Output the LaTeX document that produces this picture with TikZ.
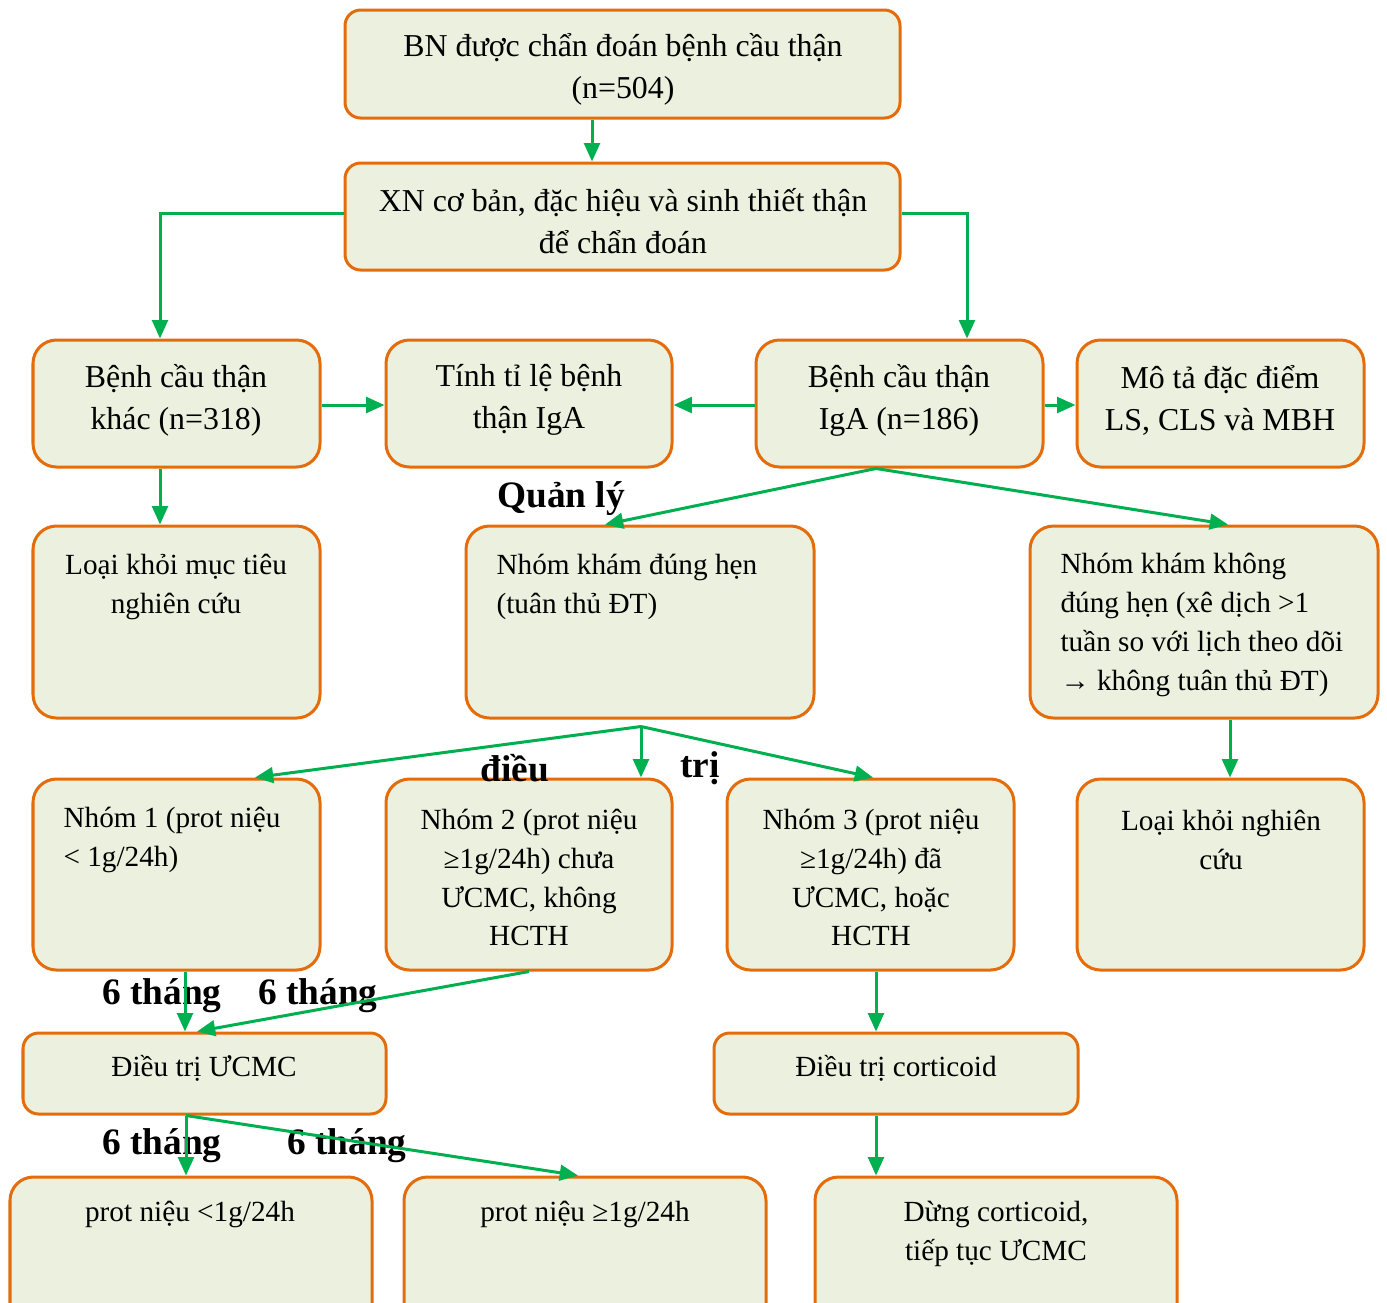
\documentclass[tikz,border=0pt]{standalone}
\usepackage{fontspec}
\setmainfont{Liberation Serif}
\usetikzlibrary{arrows.meta,fit,calc}
\definecolor{boxfill}{HTML}{EBF1DE}
\definecolor{boxline}{HTML}{E46C0A}
\definecolor{arrgreen}{HTML}{00B050}
\begin{document}
\begin{tikzpicture}[x=0.383pt,y=-0.383pt,
 box/.style={draw=boxline,fill=boxfill,line width=1.15pt,rounded corners=9pt,inner sep=0pt},
 sbox/.style={box,rounded corners=6pt},
 txt/.style={inner sep=0pt,align=center,font=\fontsize{12.2pt}{16.1pt}\selectfont},
 txts/.style={inner sep=0pt,align=center,font=\fontsize{11.2pt}{14.9pt}\selectfont},
 txtl/.style={inner sep=0pt,align=left,anchor=west,font=\fontsize{11.2pt}{14.9pt}\selectfont},
 lbl/.style={inner sep=0pt,font=\fontsize{14.3pt}{16pt}\selectfont\bfseries},
 arr/.style={draw=arrgreen,line width=1.15pt,-{Triangle[length=7pt,width=6pt]}}]
\useasboundingbox (0,0) rectangle (1387,1302);
\clip (0,0) rectangle (1387,1302);
% boxes
\node[sbox,fit={(345,10)(900,118)}] (b1) {};
\node[sbox,fit={(345,163)(900,270)}] (b2) {};
\node[box,fit={(33,340)(320,467)}] (A) {};
\node[box,fit={(386,340)(672,467)}] (B) {};
\node[box,fit={(756,340)(1043,467)}] (C) {};
\node[box,fit={(1077,340)(1364,467)}] (D) {};
\node[box,fit={(33,526)(320,718)}] (E) {};
\node[box,fit={(466,526)(814,718)}] (F) {};
\node[box,fit={(1030,526)(1378,718)}] (G) {};
\node[box,fit={(33,779)(320,970)}] (H) {};
\node[box,fit={(386,779)(672,970)}] (I) {};
\node[box,fit={(727,779)(1014,970)}] (J) {};
\node[box,fit={(1077,779)(1364,970)}] (K) {};
\node[sbox,fit={(23,1033)(386,1114)}] (L) {};
\node[sbox,fit={(714,1033)(1078,1114)}] (M) {};
\node[box,fit={(10,1177)(372,1330)}] (N) {};
\node[box,fit={(404,1177)(766,1330)}] (O) {};
\node[box,fit={(815,1177)(1177,1330)}] (P) {};
% texts
\node[txt] (t1) at (623,69) {BN được chẩn đoán bệnh cầu thận\\(n=504)};
\node[txt] (t2) at (623,221) {XN cơ bản, đặc hiệu và sinh thiết thận\\để chẩn đoán};
\node[txt] (tA) at (176,400) {Bệnh cầu thận\\khác (n=318)};
\node[txt] (tB) at (529,400) {Tính tỉ lệ bệnh\\thận IgA};
\node[txt] (tC) at (899,400) {Bệnh cầu thận\\IgA (n=186)};
\node[txt] (tD) at (1220,400) {Mô tả đặc điểm\\LS, CLS và MBH};
\node[txts] (tE) at (176,587) {Loại khỏi mục tiêu\\nghiên cứu};
\node[txtl] (tF) at (496,587) {Nhóm khám đúng hẹn\\(tuân thủ ĐT)};
\node[txtl] (tG) at (1060,625) {Nhóm khám không\\đúng hẹn (xê dịch >1\\tuần so với lịch theo dõi\\→ không tuân thủ ĐT)};
\node[txtl] (tH) at (63,840) {Nhóm 1 (prot niệu\\< 1g/24h)};
\node[txts] (tI) at (529,877.5) {Nhóm 2 (prot niệu\\≥1g/24h) chưa\\ƯCMC, không\\HCTH};
\node[txts] (tJ) at (871,877.5) {Nhóm 3 (prot niệu\\≥1g/24h) đã\\ƯCMC, hoặc\\HCTH};
\node[txts] (tK) at (1221,839.5) {Loại khỏi nghiên\\cứu};
\node[txts] (tL) at (204,1068) {Điều trị ƯCMC};
\node[txts] (tM) at (896,1068) {Điều trị corticoid};
\node[txts] (tN) at (190,1214) {prot niệu <1g/24h};
\node[txts] (tO) at (585,1214) {prot niệu ≥1g/24h};
\node[txts] (tP) at (996,1233.5) {Dừng corticoid,\\tiếp tục ƯCMC};
% labels
\node[lbl] (q1) at (561,499) {Quản lý};
\node[lbl] (q2) at (515,768) {điều};
\node[lbl] (q3) at (700,768) {trị};
\node[lbl] (m1) at (162,996) {6 tháng};
\node[lbl] (m2) at (318,996) {6 tháng};
\node[lbl] (m3) at (162,1146) {6 tháng};
\node[lbl] (m4) at (347,1146) {6 tháng};
% connectors
\draw[arr] ($(b1.south)+(-30.5,0)$) -- ($(b2.north)+(-30.5,0)$);
\draw[arr] ($(b2.west)+(0,-3)$) -| ($(A.north)+(-16.5,0)$);
\draw[arr] ($(b2.east)+(0,-3)$) -| ($(C.north)+(67.5,0)$);
\draw[arr] ($(A.east)+(0,1.5)$) -- ($(B.west)+(0,1.5)$);
\draw[arr] ($(C.west)+(0,1.5)$) -- ($(B.east)+(0,1.5)$);
\draw[arr] ($(C.east)+(0,1.5)$) -- ($(D.west)+(0,1.5)$);
\draw[arr] ($(A.south)+(-16.5,0)$) -- ($(E.north)+(-16.5,0)$);
\draw[arr] ($(C.south)+(-23.5,0)$) -- ($(F.north)+(-35,0)$);
\draw[arr] ($(C.south)+(-23.5,0)$) -- ($(G.north)+(24,0)$);
\coordinate (fs) at ($(F.south)+(1,7)$);
\draw[arr] (fs) -- ($(H.north)+(78.5,0)$);
\draw[arr] (fs) -- ($(I.north)+(112,0)$);
\draw[arr] (fs) -- ($(J.north)+(2.5,0)$);
\draw[arr] ($(G.south)+(26,0)$) -- ($(K.north)+(9.5,0)$);
\draw[arr] ($(H.south)+(8.5,0)$) -- ($(L.north)+(-19.5,0)$);
\draw[arr] (I.south) -- ($(L.north)+(-7.5,0)$);
\draw[arr] ($(J.south)+(5.5,0)$) -- ($(M.north)+(-20,0)$);
\draw[arr] ($(L.south)+(-18.5,0)$) -- ($(N.north)+(-5,0)$);
\draw[arr] ($(L.south)+(-18.5,0)$) -- ($(O.north)+(-7,0)$);
\draw[arr] ($(M.south)+(-20,0)$) -- ($(P.north)+(-120,0)$);
\end{tikzpicture}
\end{document}
